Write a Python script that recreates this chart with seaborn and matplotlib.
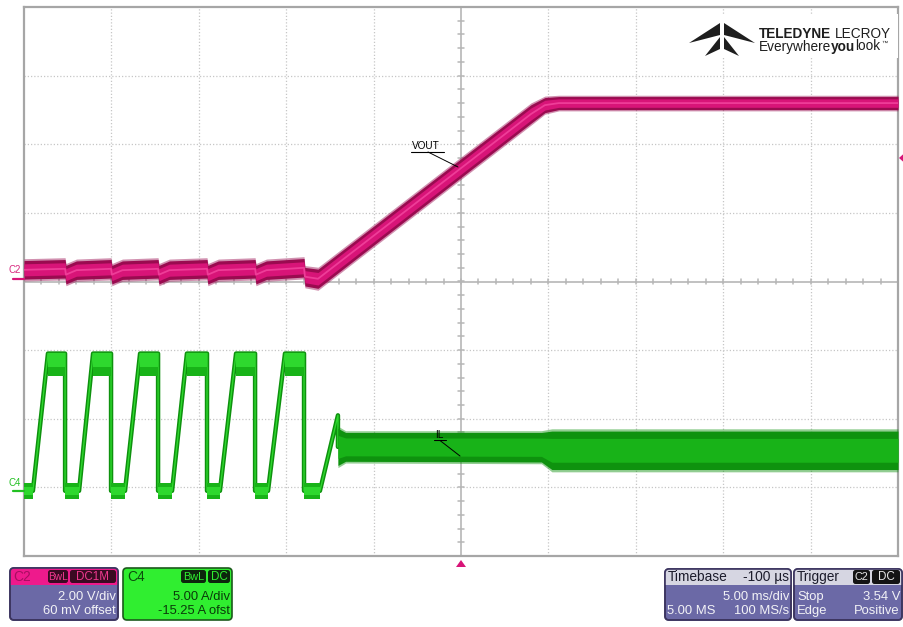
import matplotlib
matplotlib.use("Agg")
import numpy as np
import pandas as pd
import matplotlib.pyplot as plt
import seaborn as sns
from matplotlib.patches import FancyBboxPatch, Polygon, Rectangle

sns.set_theme(style="white")
plt.rcParams["font.family"] = ["Liberation Sans", "DejaVu Sans"]

# ---------------------------------------------------------------- settings
C2_SCALE, C2_OFFSET = 2.00, 0.06      # V/div, V
C4_SCALE, C4_OFFSET = 5.00, -15.25    # A/div, A
TIME_PER_DIV = 5.0                    # ms/div
TRIG_LEVEL = 3.54                     # V

# ---------------------------------------------------------------- VOUT (C2)
vout_t = [-25.0, -22.65, -22.60, -22.00, -20.02, -19.97, -19.37, -17.33,
          -17.28, -16.68, -14.53, -14.48, -13.88, -11.78, -11.73, -11.13,
          -8.98, -8.93, -8.18, 4.00, 4.80, 5.60, 25.0]
vout_v = [0.28, 0.31, 0.14, 0.27, 0.31, 0.14, 0.27, 0.31,
          0.14, 0.27, 0.31, 0.14, 0.27, 0.31, 0.14, 0.27,
          0.34, 0.08, 0.02, 4.82, 5.08, 5.14, 5.14]
vout_hw = [0.27, 0.27, 0.27, 0.27, 0.27, 0.27, 0.27, 0.27,
           0.27, 0.27, 0.27, 0.27, 0.27, 0.27, 0.27, 0.27,
           0.27, 0.27, 0.28, 0.27, 0.22, 0.19, 0.19]

# ---------------------------------------------------------------- IL (C4)
il_t = [-25.0, -24.49, -23.63, -22.65, -22.65, -21.85, -21.05, -20.02,
        -20.02, -19.22, -18.36, -17.33, -17.33, -16.53, -15.68, -14.53,
        -14.53, -13.79, -12.87, -11.78, -11.78, -11.04, -10.07, -8.98,
        -8.98, -8.07, -7.04, -7.04]
il_a = [0.0, 0.0, 10.0, 10.0, 0.0, 0.0, 10.0, 10.0,
        0.0, 0.0, 10.0, 10.0, 0.0, 0.0, 10.0, 10.0,
        0.0, 0.0, 10.0, 10.0, 0.0, 0.0, 10.0, 10.0,
        0.0, 0.0, 5.5, 3.2]

# current-limit plateaus
il_hi_start = [-23.63, -21.05, -18.36, -15.68, -12.87, -10.07]
il_hi_end = [-22.65, -20.02, -17.33, -14.53, -11.78, -8.98]
il_hi_top, il_hi_mid, il_hi_bot = 10.0, 9.0, 8.4
il_lo_start = [-25.0, -22.65, -20.02, -17.33, -14.53, -11.78, -8.98]
il_lo_end = [-24.49, -21.85, -19.22, -16.53, -13.79, -11.04, -8.07]
il_lo_top, il_lo_bot = 0.58, -0.58

# regulated ripple band
il_band_t = [-7.04, -6.60, 4.60, 5.20, 25.0]
il_band_top = [4.55, 4.25, 4.25, 4.35, 4.35]
il_band_bot = [1.85, 2.15, 2.10, 1.55, 1.55]

# ---------------------------------------------------------------- colours
PINK_DARK, PINK, PINK_LIGHT = "#9a0b50", "#d81478", "#ee3d98"
GREEN_DARK, GREEN, GREEN_LIGHT = "#0e920e", "#18b318", "#2ed82e"
GRID = "#c6c6c6"
FRAME = "#a6a6a6"
AXIS = "#b6b6b6"


def c2div(v):
    return (np.asarray(v, dtype=float) + C2_OFFSET) / C2_SCALE


def c4div(i):
    return (np.asarray(i, dtype=float) + C4_OFFSET) / C4_SCALE


W, H = 904, 627
fig = plt.figure(figsize=(W / 100, H / 100), dpi=100)
fig.patch.set_facecolor("white")

ax = fig.add_axes([24 / W, 1 - 556 / H, 874 / W, 549 / H], zorder=1)
ax.set_xlim(-5 * TIME_PER_DIV, 5 * TIME_PER_DIV)
ax.set_ylim(-4, 4)
ax.set_facecolor("white")
ax.set_xticks([])
ax.set_yticks([])
for s in ax.spines.values():
    s.set_color(FRAME)
    s.set_linewidth(1.6)

# graticule
for k in range(-4, 5):
    if k != 0:
        ax.axvline(k * TIME_PER_DIV, color=GRID, lw=0.9, ls=(0, (1, 1.6)), zorder=0)
for k in range(-3, 4):
    if k != 0:
        ax.axhline(k, color=GRID, lw=0.9, ls=(0, (1, 1.6)), zorder=0)
ax.axhline(0, color=AXIS, lw=1.2, zorder=0)
ax.axvline(0, color=AXIS, lw=1.2, zorder=0)
for xt in np.arange(-25, 25.01, TIME_PER_DIV / 5):
    ax.plot([xt, xt], [-0.042, 0.042], color=AXIS, lw=1.1, zorder=0)
for yt in np.arange(-4, 4.01, 0.2):
    ax.plot([-0.16, 0.16], [yt, yt], color=AXIS, lw=1.1, zorder=0)

# ---------------------------------------------------------------- C2 trace
vt = np.array(vout_t)
vv = np.array(vout_v)
vh = np.array(vout_hw)
ax.fill_between(vt, c2div(vv - 1.2 * vh), c2div(vv + 1.2 * vh), color=PINK_DARK,
                alpha=0.45, lw=0, zorder=3)
ax.fill_between(vt, c2div(vv - vh), c2div(vv + vh), color=PINK_DARK, lw=0, zorder=3)
ax.fill_between(vt, c2div(vv - 0.65 * vh), c2div(vv + 0.65 * vh), color=PINK, lw=0, zorder=3)
df_v = pd.DataFrame({"t": vt, "div": c2div(vv)})
sns.lineplot(data=df_v, x="t", y="div", sort=False, estimator=None,
             color=PINK_LIGHT, lw=1.3, ax=ax, zorder=4)

# ---------------------------------------------------------------- C4 trace
df_i = pd.DataFrame({"t": il_t, "div": c4div(il_a)})
sns.lineplot(data=df_i, x="t", y="div", sort=False, estimator=None,
             color=GREEN_DARK, lw=3.2, ax=ax, zorder=3)
sns.lineplot(data=df_i, x="t", y="div", sort=False, estimator=None,
             color=GREEN_LIGHT, lw=1.0, ax=ax, zorder=3)
for s, e in zip(il_hi_start, il_hi_end):
    ax.fill_between([s, e], c4div(il_hi_bot), c4div(il_hi_mid), color=GREEN, lw=0, zorder=4)
    ax.fill_between([s, e], c4div(il_hi_mid), c4div(il_hi_top), color=GREEN_LIGHT, lw=0, zorder=4)
for s, e in zip(il_lo_start, il_lo_end):
    ax.fill_between([s, e], c4div(il_lo_bot), c4div(il_lo_top), color=GREEN, lw=0, zorder=4)
    ax.fill_between([s, e], c4div(il_lo_bot * 0.5), c4div(il_lo_top * 0.5), color=GREEN_LIGHT,
                    lw=0, zorder=4)
bt = np.array(il_band_t)
btop = np.array(il_band_top)
bbot = np.array(il_band_bot)
bmid = (btop + bbot) / 2
bh = (btop - bbot) / 2
ax.fill_between(bt, c4div(bmid - 1.12 * bh), c4div(bmid + 1.12 * bh), color=GREEN_DARK,
                alpha=0.45, lw=0, zorder=4)
ax.fill_between(bt, c4div(bbot), c4div(btop), color=GREEN_DARK, lw=0, zorder=4)
ax.fill_between(bt, c4div(bmid - 0.62 * bh), c4div(bmid + 0.62 * bh), color=GREEN, lw=0, zorder=4)
ax.set_xlabel("")
ax.set_ylabel("")

# ---------------------------------------------------------------- overlay (pixel space)
ov = fig.add_axes([0, 0, 1, 1], zorder=5)
ov.set_xlim(0, W)
ov.set_ylim(H, 0)
ov.axis("off")
ov.patch.set_alpha(0)


def px(t, d):
    """(ms, div) -> overlay pixels"""
    x = 24 + (t + 25) / 50 * 874
    y = 556 - (d + 4) / 8 * 549
    return x, y


# channel ground markers
x0, y2 = px(-25, c2div(0.0))
ov.plot([x0 - 11, x0], [y2, y2], color=PINK, lw=1.6)
ov.text(x0 - 15, y2 - 9, "C2", color="#d8287f", fontsize=7, ha="left", va="center")
_, y4 = px(-25, c4div(0.0))
ov.plot([x0 - 11, x0], [y4, y4], color="#22c022", lw=1.6)
ov.text(x0 - 15, y4 - 8, "C4", color="#22c022", fontsize=7, ha="left", va="center")

# trigger position and level markers
xt, yb = px(0, -4)
ov.add_patch(Polygon([(xt - 5, yb + 11), (xt + 5, yb + 11), (xt, yb + 4)], closed=True,
                     fc=PINK, ec="none"))
xr, ytl = px(25, c2div(TRIG_LEVEL))
ov.add_patch(Polygon([(xr + 6, ytl - 4.5), (xr + 6, ytl + 4.5), (xr + 1, ytl)], closed=True,
                     fc=PINK, ec="none"))

# trace labels
ov.text(412, 149, "VOUT", fontsize=7.2, color="black", ha="left", va="baseline")
ov.plot([411, 444], [151.5, 151.5], color="black", lw=0.8)
ov.plot([428, 458], [152, 167], color="black", lw=0.7)
ov.text(435, 437.5, "IL", fontsize=7.2, color="black", ha="left", va="baseline")
ov.plot([434, 446], [440, 440], color="black", lw=0.8)
ov.plot([440, 460], [440.5, 456], color="black", lw=0.7)

# logo
ov.add_patch(Rectangle((684, 14), 214, 44, fc="white", ec="none"))
INK = "#1e1e1e"
logo_parts = [
    [(720, 23), (689, 43), (720, 35)],
    [(724, 23), (755, 43), (724, 35)],
    [(720, 37), (705, 56), (720, 49)],
    [(724, 37), (739, 56), (724, 49)],
]
for pts in logo_parts:
    ov.add_patch(Polygon(pts, closed=True, fc=INK, ec="none"))

fig.canvas.draw()
r = fig.canvas.get_renderer()
inv = ov.transData.inverted()


def extent(txt):
    bb = txt.get_window_extent(renderer=r)
    (xa, _), (xb, _) = inv.transform((bb.x0, bb.y0)), inv.transform((bb.x1, bb.y1))
    return xa, xb


def text_row(x, y, parts, target_w, size):
    """Set a row of differently weighted words, scaled to span target_w pixels."""
    def build(fs):
        items, cx = [], x
        for s, wgt, gap in parts:
            t = ov.text(cx, y, s, fontsize=fs, fontweight=wgt, color=INK,
                        ha="left", va="baseline")
            fig.canvas.draw()
            cx = extent(t)[1] + gap * fs / 10
            items.append(t)
        return items, cx - x
    items, w = build(size)
    for t in items:
        t.remove()
    items, w = build(size * target_w / w)
    return items


text_row(759, 38, [("TELEDYNE", "bold", 3.5), ("LECROY", "normal", 0)], 132, 12)
row = text_row(759, 50.5, [("Everywhere", "normal", 0), ("you", "bold", 0),
                           ("look", "normal", 0)], 122, 10)
ov.text(extent(row[-1])[1] + 0.5, 45, "\u2122", fontsize=4.5, color=INK,
        ha="left", va="baseline")

# ---------------------------------------------------------------- info panels
PURPLE = "#6b69a6"


def panel(x, y, w, h, body, edge, header=None, hh=16):
    box = FancyBboxPatch((x, y), w, h, boxstyle="round,pad=0,rounding_size=4",
                         fc=body, ec=edge, lw=1.2)
    ov.add_patch(box)
    if header is not None:
        hdr = Rectangle((x, y), w, hh, fc=header, ec="none")
        ov.add_patch(hdr)
        hdr.set_clip_path(box)
        ov.add_patch(FancyBboxPatch((x, y), w, h, boxstyle="round,pad=0,rounding_size=4",
                                    fc="none", ec=edge, lw=1.2))


def tag(x0, x1, y0, y1, label, fc, tc, fs=7.8):
    ov.add_patch(FancyBboxPatch((x0, y0), x1 - x0, y1 - y0,
                                boxstyle="round,pad=0,rounding_size=2.5", fc=fc, ec="none"))
    ov.text((x0 + x1) / 2, (y0 + y1) / 2 + 0.5, label, fontsize=fs, color=tc,
            ha="center", va="center")


FS = 9.4
# C2
panel(10, 568, 108, 52, PURPLE, "#3c3560", header="#ee1a8c", hh=17)
ov.text(13, 577, "C2", fontsize=FS + 0.5, color="#a80e62", ha="left", va="center")
tag(48, 68, 570, 583, "BwL", "#3a0a22", "#f0388f", fs=7.3)
tag(70, 116, 570, 583, "DC1M", "#3a0a22", "#f0388f", fs=8.4)
ov.text(116, 597, "2.00 V/div", fontsize=FS, color="#f2f2f6", ha="right", va="center")
ov.text(116, 611, "60 mV offset", fontsize=FS, color="#f2f2f6", ha="right", va="center")
# C4
panel(123, 568, 109, 52, "#30ee30", "#1c5a1c")
ov.text(127, 577, "C4", fontsize=FS + 0.5, color="#0c4c0c", ha="left", va="center")
tag(181, 206, 570, 583, "BwL", "#0c260c", "#30ee30")
tag(208, 230, 570, 583, "DC", "#0c260c", "#30ee30", fs=8.4)
ov.text(230, 597, "5.00 A/div", fontsize=FS, color="#0a3a0a", ha="right", va="center")
ov.text(230, 611, "-15.25 A ofst", fontsize=FS, color="#0a3a0a", ha="right", va="center")
# Timebase
panel(665, 569, 126, 51, PURPLE, "#3c3560", header="#d6d6e2", hh=16)
ov.text(668, 577, "Timebase", fontsize=FS + 0.5, color="#1c1c2c", ha="left", va="center")
ov.text(789, 577, "-100 \u00b5s", fontsize=FS + 0.5, color="#1c1c2c", ha="right", va="center")
ov.text(789, 597, "5.00 ms/div", fontsize=FS, color="#f2f2f6", ha="right", va="center")
ov.text(667, 611, "5.00 MS", fontsize=FS, color="#f2f2f6", ha="left", va="center")
ov.text(789, 611, "100 MS/s", fontsize=FS, color="#f2f2f6", ha="right", va="center")
# Trigger
panel(794, 569, 108, 51, PURPLE, "#3c3560", header="#d6d6e2", hh=16)
ov.text(797, 577, "Trigger", fontsize=FS + 0.5, color="#1c1c2c", ha="left", va="center")
tag(853, 870, 570, 584, "C2", "#141414", "#e6e6e6")
tag(872, 900, 570, 584, "DC", "#141414", "#e6e6e6", fs=8.4)
ov.text(797, 597, "Stop", fontsize=FS, color="#f2f2f6", ha="left", va="center")
ov.text(900, 597, "3.54 V", fontsize=FS, color="#f2f2f6", ha="right", va="center")
ov.text(797, 611, "Edge", fontsize=FS, color="#f2f2f6", ha="left", va="center")
ov.text(900, 611, "Positive", fontsize=FS, color="#f2f2f6", ha="right", va="center")

fig.savefig("out.png", dpi=100, facecolor="white")
